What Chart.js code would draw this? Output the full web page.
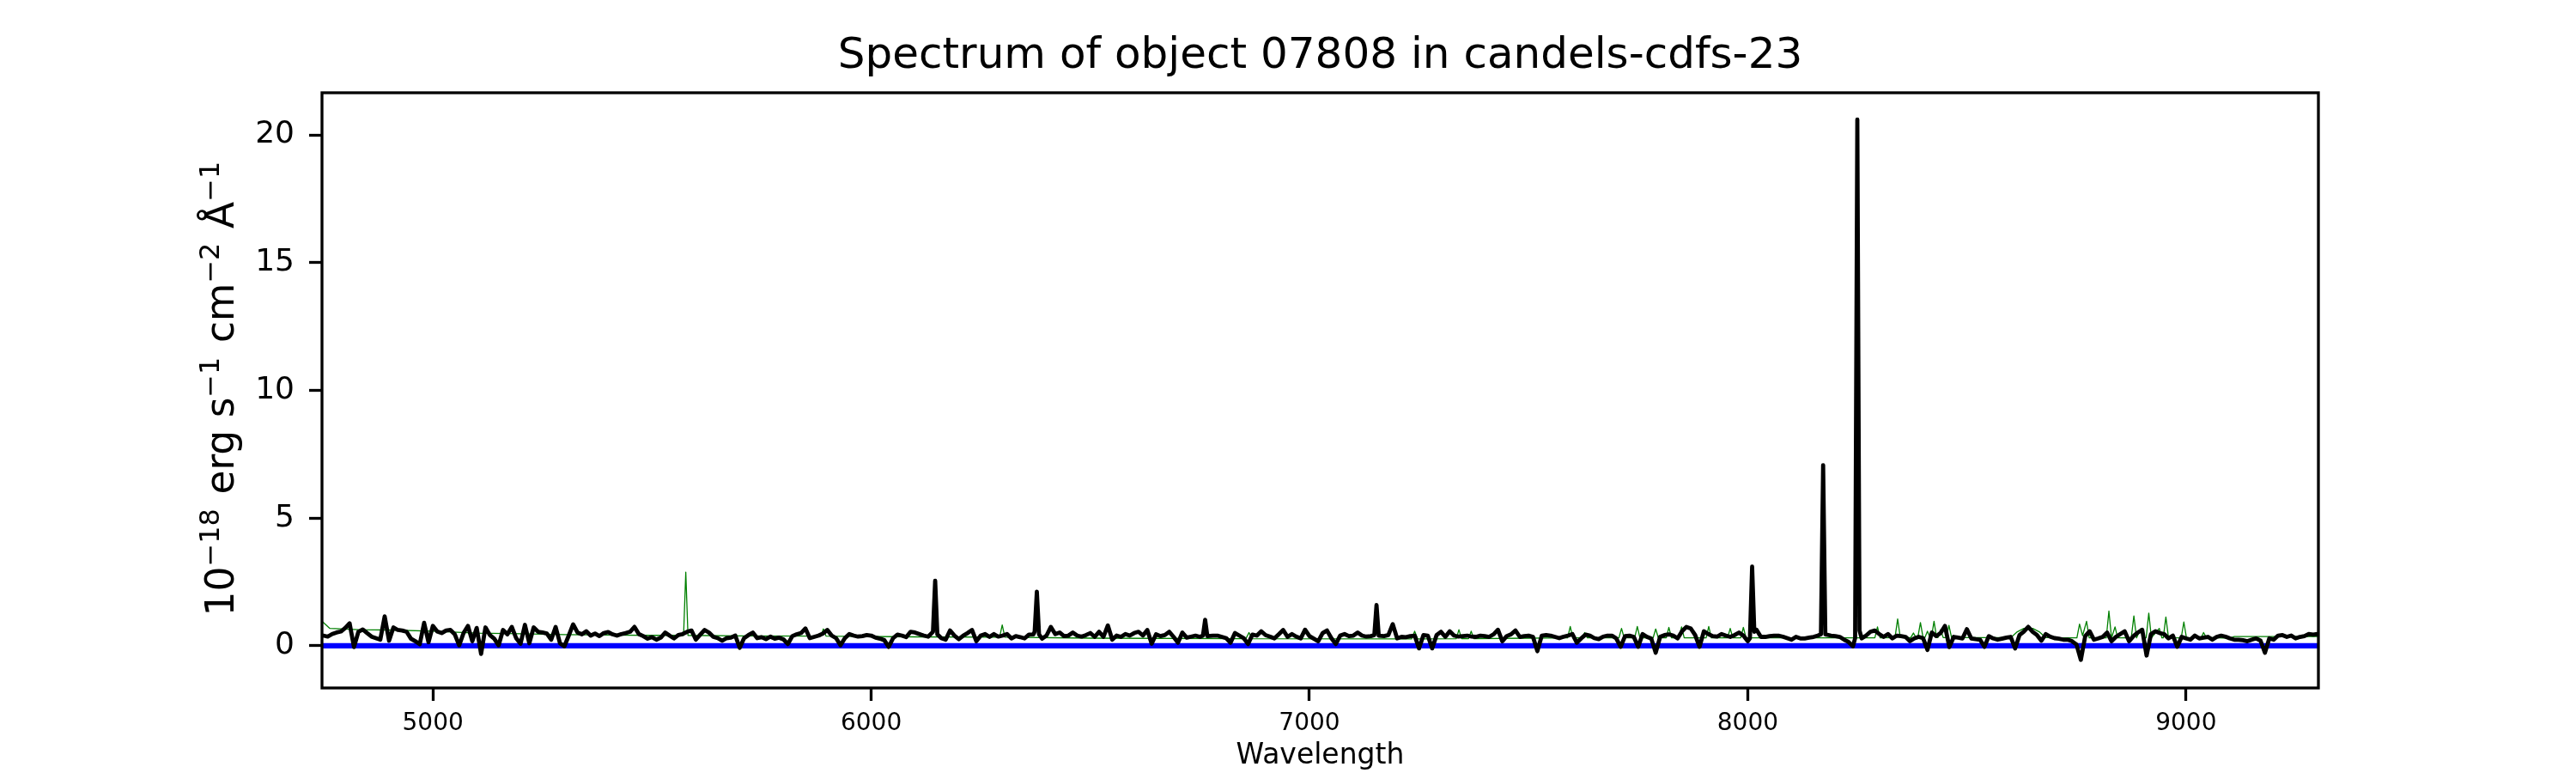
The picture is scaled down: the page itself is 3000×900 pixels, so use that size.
<!DOCTYPE html>
<html>
<head>
<meta charset="utf-8">
<script src="https://cdn.jsdelivr.net/npm/chart.js@4.4.1/dist/chart.umd.min.js"></script>
<style>
html, body { margin: 0; padding: 0; background: #ffffff; }
#wrap { width: 3000px; height: 900px; }
canvas { display: block; }
</style>
</head>
<body>
<div id="wrap"><canvas id="c" width="3000" height="900"></canvas></div>
<script>
const titleText = 'Spectrum of object 07808 in candels-cdfs-23';
const xAxisLabel = 'Wavelength';
// y label pieces: [text, isSuperscript]
const yLabelParts = [['10', false], ['\u221218', true], [' erg s', false], ['\u22121', true],
                     [' cm', false], ['\u22122', true], [' \u00C5', false], ['\u22121', true]];
const xTickValues = [5000, 6000, 7000, 8000, 9000];
const yTickValues = [0, 5, 10, 15, 20];

// observed spectrum (black)
const wavelengths = [
4740,4750,4760,4770,4780,4790,4800,4810,4820,4830,
4840,4850,4860,4870,4880,4890,4900,4910,4920,4930,
4940,4950,4960,4970,4980,4990,5000,5010,5020,5030,
5040,5050,5060,5070,5080,5090,5100,5110,5120,5130,
5140,5150,5160,5170,5180,5190,5200,5210,5220,5230,
5240,5250,5260,5270,5280,5290,5300,5310,5320,5330,
5340,5350,5360,5370,5380,5390,5400,5410,5420,5430,
5440,5450,5460,5470,5480,5490,5500,5510,5520,5530,
5540,5550,5560,5570,5580,5590,5600,5610,5620,5630,
5640,5650,5660,5670,5680,5690,5700,5710,5720,5730,
5740,5750,5760,5770,5780,5790,5800,5810,5820,5830,
5840,5850,5860,5870,5880,5890,5900,5910,5920,5930,
5940,5950,5960,5970,5980,5990,6000,6010,6020,6030,
6040,6050,6060,6070,6080,6090,6100,6110,6120,6130,
6141,6146,6151,6160,6170,6180,6190,6200,6210,6220,6230,
6240,6250,6260,6270,6280,6290,6300,6310,6320,6330,
6340,6350,6360,6370,6373,6378,6383,6390,6400,6410,6420,6430,
6440,6450,6460,6470,6480,6490,6500,6510,6520,6530,
6540,6550,6560,6570,6580,6590,6600,6610,6620,6630,
6640,6650,6660,6670,6680,6690,6700,6710,6720,6730,
6740,6750,6757,6762,6767,6780,6790,6800,6810,6820,6830,
6840,6850,6860,6870,6880,6890,6900,6910,6920,6930,
6940,6950,6960,6970,6980,6990,7000,7010,7020,7030,
7040,7050,7060,7070,7080,7090,7100,7110,7120,7130,
7140,7148,7153,7158,7170,7180,7190,7200,7210,7220,7230,
7240,7250,7260,7270,7280,7290,7300,7310,7320,7330,
7340,7350,7360,7370,7380,7390,7400,7410,7420,7430,
7440,7450,7460,7470,7480,7490,7500,7510,7520,7530,
7540,7550,7560,7570,7580,7590,7600,7610,7620,7630,
7640,7650,7660,7670,7680,7690,7700,7710,7720,7730,
7740,7750,7760,7770,7780,7790,7800,7810,7820,7830,
7840,7850,7860,7870,7880,7890,7900,7910,7920,7930,
7940,7950,7960,7970,7980,7990,8000,8005,8010,8015,8020,8030,
8040,8050,8060,8070,8080,8090,8100,8110,8120,8130,
8140,8150,8160,8167,8172,8177,8190,8200,8210,8220,8230,
8240,8245,8250,8255,8260,8270,8280,8290,8300,8310,8320,8330,
8340,8350,8360,8370,8380,8390,8400,8410,8420,8430,
8440,8450,8460,8470,8480,8490,8500,8510,8520,8530,
8540,8550,8560,8570,8580,8590,8600,8610,8620,8630,
8640,8650,8660,8670,8680,8690,8700,8710,8720,8730,
8740,8750,8760,8770,8780,8790,8800,8810,8820,8830,
8840,8850,8860,8870,8880,8890,8900,8910,8920,8930,
8940,8950,8960,8970,8980,8990,9000,9010,9020,9030,
9040,9050,9060,9070,9080,9090,9100,9110,9120,9130,
9140,9150,9160,9170,9180,9190,9200,9210,9220,9230,
9240,9250,9260,9270,9280,9290,9300,9310
];
const flux = [
0.42,0.40,0.36,0.46,0.52,0.56,0.70,0.88,-0.05,0.55,
0.64,0.50,0.36,0.30,0.24,1.15,0.20,0.72,0.62,0.60,
0.55,0.28,0.18,0.06,0.90,0.14,0.78,0.56,0.50,0.60,
0.62,0.45,0.02,0.50,0.78,0.18,0.70,-0.32,0.72,0.42,
0.28,0.02,0.62,0.45,0.74,0.30,0.08,0.82,0.10,0.72,
0.55,0.52,0.48,0.24,0.74,0.10,-0.02,0.40,0.84,0.52,
0.45,0.57,0.40,0.48,0.38,0.50,0.54,0.45,0.40,0.46,
0.50,0.55,0.74,0.46,0.38,0.28,0.34,0.24,0.32,0.52,
0.40,0.29,0.42,0.46,0.55,0.60,0.24,0.44,0.62,0.52,
0.35,0.30,0.20,0.30,0.32,0.40,-0.08,0.30,0.42,0.52,
0.30,0.34,0.26,0.36,0.28,0.32,0.25,0.07,0.38,0.45,
0.50,0.68,0.30,0.35,0.40,0.48,0.62,0.40,0.30,0.02,
0.30,0.46,0.40,0.36,0.38,0.42,0.40,0.32,0.28,0.22,
-0.04,0.30,0.44,0.40,0.34,0.55,0.52,0.46,0.40,0.36,
0.55,2.55,0.45,0.30,0.24,0.60,0.40,0.26,0.40,0.50,0.62,
0.18,0.40,0.46,0.35,0.46,0.36,0.40,0.46,0.29,0.38,
0.34,0.29,0.44,0.45,0.55,2.12,0.45,0.28,0.40,0.74,0.46,0.52,
0.38,0.40,0.52,0.40,0.36,0.42,0.50,0.35,0.55,0.35,
0.80,0.24,0.40,0.35,0.46,0.40,0.50,0.55,0.40,0.62,
0.08,0.45,0.38,0.42,0.55,0.35,0.12,0.52,0.32,0.36,
0.40,0.35,0.40,1.02,0.38,0.40,0.40,0.35,0.30,0.12,0.50,
0.40,0.30,0.07,0.44,0.40,0.57,0.42,0.36,0.29,0.45,
0.62,0.35,0.46,0.36,0.29,0.63,0.38,0.28,0.18,0.50,
0.60,0.30,0.07,0.40,0.46,0.38,0.40,0.52,0.40,0.36,
0.38,0.42,1.60,0.40,0.38,0.42,0.85,0.29,0.35,0.34,0.38,
0.40,-0.10,0.42,0.40,-0.10,0.42,0.55,0.35,0.57,0.40,
0.36,0.38,0.40,0.36,0.35,0.40,0.38,0.35,0.45,0.63,
0.18,0.38,0.45,0.60,0.35,0.38,0.40,0.35,-0.21,0.40,
0.42,0.40,0.35,0.30,0.36,0.40,0.46,0.12,0.29,0.44,
0.40,0.30,0.26,0.36,0.40,0.40,0.29,-0.04,0.38,0.40,
0.35,-0.04,0.46,0.35,0.28,-0.27,0.35,0.42,0.45,0.40,
0.29,0.57,0.74,0.68,0.42,-0.04,0.57,0.46,0.38,0.36,
0.46,0.40,0.35,0.42,0.52,0.40,0.18,0.30,3.10,0.55,0.63,0.35,
0.35,0.38,0.40,0.40,0.36,0.30,0.24,0.35,0.29,0.29,
0.32,0.35,0.40,0.45,7.07,0.45,0.40,0.38,0.35,0.24,0.15,
-0.02,0.30,20.6,0.60,0.29,0.40,0.55,0.60,0.46,0.35,0.46,0.29,
0.40,0.38,0.35,0.18,0.29,0.35,0.30,-0.16,0.52,0.38,
0.50,0.78,-0.05,0.35,0.32,0.29,0.65,0.29,0.26,0.24,
-0.04,0.38,0.29,0.24,0.28,0.32,0.35,-0.10,0.42,0.56,
0.74,0.55,0.42,0.20,0.46,0.36,0.30,0.28,0.24,0.24,
0.18,0.05,-0.55,0.38,0.57,0.24,0.29,0.35,0.52,0.18,
0.35,0.46,0.57,0.18,0.38,0.52,0.63,-0.38,0.46,0.57,
0.50,0.46,0.29,0.40,-0.04,0.35,0.29,0.24,0.40,0.29,
0.32,0.35,0.24,0.35,0.40,0.36,0.29,0.24,0.24,0.22,
0.18,0.24,0.29,0.20,-0.27,0.29,0.24,0.40,0.42,0.35,
0.40,0.29,0.35,0.38,0.46,0.44,0.46,0.46
];

// thin green trace
const skyWavelengths = [
4740,4748,4765,4800,4830,4900,5000,5100,5200,5300,5400,5500,
5572,5577,5582,5700,5885,5891,5897,6100,6293,6299,6305,6500,
6855,6862,6869,7233,7240,7247,7335,7341,7347,7363,7369,7375,7500,
7589,7595,7601,7622,7628,7634,7706,7712,7718,7742,7748,7754,
7784,7790,7796,7814,7820,7826,7843,7849,7855,7905,7911,7917,
7954,7960,7966,7984,7990,7996,8290,8296,8302,8336,8342,8348,
8372,8378,8384,8388,8394,8400,8404,8410,8416,8419,8425,8431,
8434,8440,8446,8453,8459,8465,8600,8615,8630,8650,8665,8680,
8751,8757,8764,8773,8779,8818,8824,8830,8838,8844,8875,8881,8887,
8897,8903,8909,8915,8921,8939,8945,8948,8954,8960,8989,8995,9001,
9035,9040,9046,9100,9110,9310
];
const skyFlux = [
1.05,0.95,0.68,0.66,0.63,0.62,0.57,0.50,0.47,0.44,0.42,0.41,
0.41,2.88,0.41,0.39,0.38,0.66,0.38,0.35,0.34,0.82,0.34,0.30,
0.28,0.52,0.28,0.27,0.57,0.27,0.28,0.63,0.28,0.28,0.57,0.28,0.30,
0.31,0.76,0.31,0.31,0.52,0.31,0.31,0.68,0.31,0.31,0.76,0.31,
0.31,0.66,0.31,0.31,0.72,0.31,0.31,0.74,0.31,0.31,0.76,0.31,
0.31,0.68,0.31,0.31,0.72,0.31,0.31,0.74,0.31,0.32,1.05,0.32,
0.32,0.50,0.32,0.32,0.91,0.32,0.32,0.57,0.32,0.32,0.96,0.32,
0.32,0.63,0.32,0.32,0.80,0.32,0.32,0.55,0.68,0.68,0.55,0.32,
0.31,0.85,0.40,0.96,0.31,0.31,1.36,0.31,0.74,0.31,0.31,1.17,0.31,
0.68,0.31,0.31,1.28,0.31,0.68,0.31,0.31,1.13,0.31,0.31,0.93,0.31,
0.33,0.52,0.33,0.30,0.36,0.36
];

// flat blue reference line
const zeroWavelengths = [4740, 9310];
const zeroFlux = [0, 0];

const toPoints = (xs, ys) => xs.map((x, i) => ({ x: x, y: ys[i] }));

const FAMILY = "'DejaVu Sans', sans-serif";
Chart.defaults.font.family = FAMILY;
Chart.defaults.color = '#000000';

const framePlugin = {
  id: 'frame',
  afterDatasetsDraw(chart) {
    const a = chart.chartArea;
    const ctx = chart.ctx;
    ctx.save();
    ctx.lineWidth = 3.3;
    ctx.strokeStyle = '#000000';
    ctx.strokeRect(a.left, a.top, a.right - a.left, a.bottom - a.top);
    ctx.restore();
  }
};

// y axis label with real superscripts (mathtext style)
const yLabelPlugin = {
  id: 'ylabel',
  afterDraw(chart) {
    const ctx = chart.ctx;
    const a = chart.chartArea;
    const F = 45.5, S = F * 0.7;
    ctx.save();
    ctx.fillStyle = '#000000';
    ctx.textAlign = 'left';
    ctx.textBaseline = 'alphabetic';
    const widths = yLabelParts.map(([t, sup]) => {
      ctx.font = (sup ? S : F) + 'px ' + FAMILY;
      return ctx.measureText(t).width + (sup ? 0.05 * F : 0);
    });
    const total = widths.reduce((s, w) => s + w, 0);
    ctx.translate(a.left - 103, (a.top + a.bottom) / 2 - 3);
    ctx.rotate(-Math.PI / 2);
    let x = -total / 2;
    yLabelParts.forEach(([t, sup], i) => {
      ctx.font = (sup ? S : F) + 'px ' + FAMILY;
      ctx.fillText(t, x, sup ? -0.37 * F : 0);
      x += widths[i];
    });
    ctx.restore();
  }
};

new Chart(document.getElementById('c').getContext('2d'), {
  type: 'line',
  data: {
    datasets: [
      { label: 'flux', data: toPoints(wavelengths, flux), borderColor: '#000000', borderWidth: 4.8,
        borderJoinStyle: 'round', pointRadius: 0, tension: 0, fill: false, clip: 0, order: 0 },
      { label: 'zero', data: toPoints(zeroWavelengths, zeroFlux), borderColor: '#0000ff', borderWidth: 6.25,
        pointRadius: 0, tension: 0, fill: false, clip: 0, order: 1 },
      { label: 'sky', data: toPoints(skyWavelengths, skyFlux), borderColor: '#008000', borderWidth: 1.3,
        borderJoinStyle: 'round', pointRadius: 0, tension: 0, fill: false, clip: 0, order: 2 }
    ]
  },
  options: {
    responsive: false,
    animation: false,
    devicePixelRatio: 1,
    events: [],
    layout: { padding: { left: 0, right: 300, top: 0, bottom: 0 } },
    plugins: {
      legend: { display: false },
      tooltip: { enabled: false },
      title: {
        display: true, text: titleText, color: '#000000', fullSize: false,
        font: { family: FAMILY, size: 50, weight: 'normal' },
        padding: { top: 36, bottom: 12 }
      }
    },
    scales: {
      x: {
        type: 'linear', min: 4747, max: 9302,
        afterBuildTicks: (s) => { s.ticks = xTickValues.map(v => ({ value: v })); },
        afterFit: (s) => { s.height = 99; },
        ticks: { color: '#000000', font: { family: FAMILY, size: 28 }, padding: 10,
                 maxRotation: 0, autoSkip: false, callback: (v) => String(v) },
        grid: { display: true, drawOnChartArea: false, drawTicks: true, tickLength: 15,
                tickWidth: 3.3, tickColor: '#000000' },
        border: { display: false },
        title: { display: true, text: xAxisLabel, color: '#000000',
                 font: { family: FAMILY, size: 33 }, padding: { top: 0, bottom: 0 } }
      },
      y: {
        type: 'linear', min: -1.65, max: 21.65,
        afterBuildTicks: (s) => { s.ticks = yTickValues.map(v => ({ value: v })); },
        afterFit: (s) => { s.width = 375; },
        ticks: { color: '#000000', font: { family: FAMILY, size: 36 }, padding: 17,
                 callback: (v) => String(v) },
        grid: { display: true, drawOnChartArea: false, drawTicks: true, tickLength: 15,
                tickWidth: 3.3, tickColor: '#000000' },
        border: { display: false },
        title: { display: false }
      }
    }
  },
  plugins: [framePlugin, yLabelPlugin]
});
</script>
</body>
</html>
